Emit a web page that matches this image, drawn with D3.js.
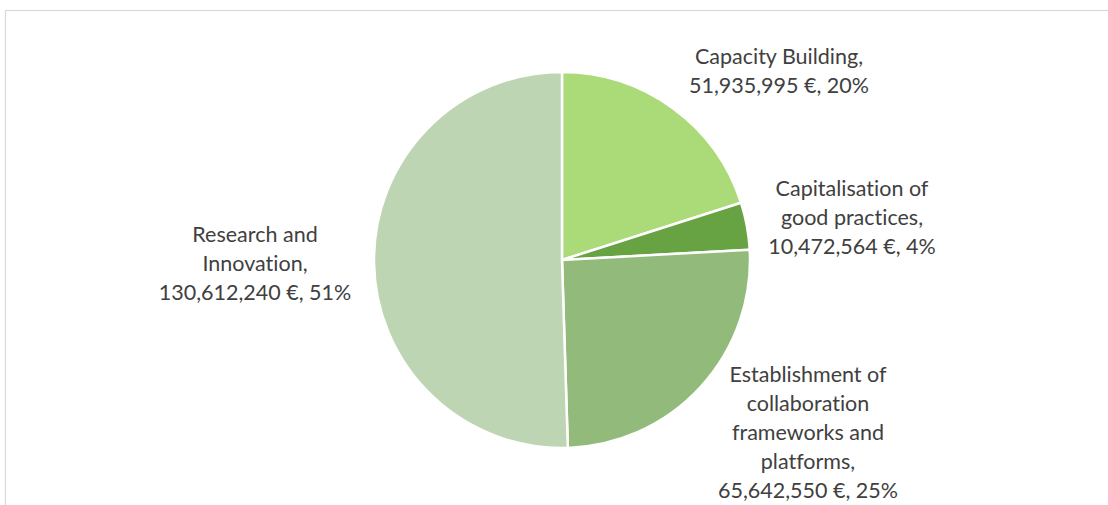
<!DOCTYPE html>
<html>
<head>
<meta charset="utf-8">
<script src="https://cdn.jsdelivr.net/npm/d3@7"></script>
<style>
  body { margin: 0; background: #ffffff; }
  #div_pie { width: 1108px; height: 505px; }
</style>
</head>
<body>
<div id="div_pie"></div>
<script>
// categories in clockwise order, starting at 12 o'clock
var categories = ["Capacity Building", "Capitalisation of good practices", "Establishment of collaboration frameworks and platforms", "Research and Innovation"];
var amounts = [51935995, 10472564, 65642550, 130612240];
var slice_colors = ["#abda79", "#67a243", "#92bb7b", "#bdd5b3"];
// label lines as Excel wrapped them
var label_lines = [
  ["Capacity Building,", "51,935,995 €, 20%"],
  ["Capitalisation of", "good practices,", "10,472,564 €, 4%"],
  ["Establishment of", "collaboration", "frameworks and", "platforms,", "65,642,550 €, 25%"],
  ["Research and", "Innovation,", "130,612,240 €, 51%"]
];

function build_pie() {
  var width = 1108, height = 505;
  var cx = 562, cy = 260, radius = 188;

  var svg = d3.select("#div_pie").append("svg")
    .attr("width", width)
    .attr("height", height);

  // chart area frame (cut off at right and bottom)
  svg.append("rect")
    .attr("x", 5.5)
    .attr("y", 10.5)
    .attr("width", width + 20)
    .attr("height", height + 20)
    .style("fill", "none")
    .style("stroke", "#d9d9d9")
    .style("stroke-width", 1.2);

  var data = categories.map(function(c, i) {
    return { name: c, value: amounts[i], color: slice_colors[i], lines: label_lines[i] };
  });

  var pie = d3.pie()
    .sort(null)
    .value(function(d) { return d.value; });

  var arc = d3.arc()
    .innerRadius(0)
    .outerRadius(radius);

  var g = svg.append("g")
    .attr("transform", "translate(" + cx + "," + cy + ")");

  var arcs = pie(data);

  g.selectAll("path")
    .data(arcs)
    .enter().append("path")
    .attr("d", arc)
    .style("fill", function(d) { return d.data.color; })
    .style("stroke", "#ffffff")
    .style("stroke-width", 2.5)
    .style("stroke-linejoin", "round");

  // label anchor: centre x and first baseline, relative to the pie centre
  var label_pos = [
    [217, -196.5],
    [290, -64.5],
    [246, 122],
    [-307, -18.5]
  ];
  var line_height = 29;

  var labels = g.selectAll("text.lbl")
    .data(arcs)
    .enter().append("text")
    .attr("class", "lbl")
    .attr("text-anchor", "middle")
    .style("font-family", "Lato, 'Open Sans', sans-serif")
    .style("font-size", "21.5px")
    .style("font-variant-ligatures", "none")
    .style("fill", "#404040");

  labels.each(function(d, i) {
    d3.select(this).selectAll("tspan")
      .data(d.data.lines)
      .enter().append("tspan")
      .attr("x", label_pos[i][0])
      .attr("y", function(l, k) { return label_pos[i][1] + k * line_height; })
      .text(function(l) { return l; });
  });
}

build_pie();
</script>
</body>
</html>
